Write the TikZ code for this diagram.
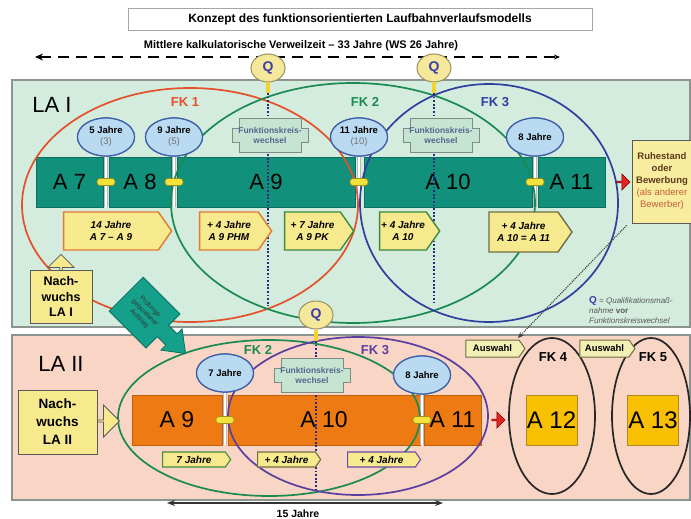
\documentclass[tikz,border=0pt]{standalone}
\usepackage{fontspec}
\setmainfont{Liberation Sans}
\usetikzlibrary{shapes.geometric,shapes.symbols,shapes.arrows,arrows.meta,calc}
\definecolor{mint}{HTML}{D3ECDD}
\definecolor{peach}{HTML}{F8D5C4}
\definecolor{panelline}{HTML}{8C9490}
\definecolor{tealbar}{HTML}{11907B}
\definecolor{tealdark}{HTML}{0B6E5E}
\definecolor{orbar}{HTML}{EE7A14}
\definecolor{ordark}{HTML}{C0600C}
\definecolor{jfill}{HTML}{B9DAF0}
\definecolor{jline}{HTML}{3C5CA8}
\definecolor{lyel}{HTML}{F7E98E}
\definecolor{lorange}{HTML}{E27A32}
\definecolor{lgreen}{HTML}{3E8B3E}
\definecolor{lolive}{HTML}{6E6E40}
\definecolor{lpurple}{HTML}{6A4AA8}
\definecolor{fkred}{HTML}{E4502C}
\definecolor{fkgreen}{HTML}{1B8A52}
\definecolor{fkblue}{HTML}{2F3F9F}
\definecolor{fkpurple}{HTML}{5B3FA0}
\definecolor{qfill}{HTML}{F6E89A}
\definecolor{qline}{HTML}{9A9060}
\definecolor{qtext}{HTML}{3C3CA8}
\definecolor{dotblue}{HTML}{2A2A80}
\definecolor{fkwfill}{HTML}{C6E4D2}
\definecolor{fkwline}{HTML}{7F8C86}
\definecolor{fkwtext}{HTML}{56668E}
\definecolor{capy}{HTML}{F2E23A}
\definecolor{capline}{HTML}{A09020}
\definecolor{ayel}{HTML}{F8C000}
\definecolor{aline}{HTML}{B08A20}
\definecolor{ruhtext}{HTML}{5A3A1A}
\definecolor{ruhred}{HTML}{C8603A}
\definecolor{arrred}{HTML}{E52222}
\definecolor{tealarrow}{HTML}{14A08A}
\definecolor{awfill}{HTML}{F2F0B4}
\tikzset{fkw/.pic={
  \filldraw[fill=fkwfill,draw=fkwline,line width=1pt] (-31,-17) -- (31,-17) -- (31,-7) -- (38,-7) -- (38,7) -- (31,7) -- (31,17) -- (-31,17) -- (-31,7) -- (-38,7) -- (-38,-7) -- (-31,-7) -- cycle;
  \node[align=center,text=fkwtext,font=\bfseries\fontsize{8.5}{10}\selectfont,inner sep=0] (-t) at (0,0) {Funktionskreis-\\wechsel};
}}
\begin{document}
\begin{tikzpicture}[x=1pt,y=-1pt,
  panel/.style={draw=panelline,line width=1.2pt,inner sep=0},
  tbar/.style={fill=tealbar,draw=tealdark,line width=0.5pt,minimum height=50,inner sep=0,font=\fontsize{22}{22}\selectfont},
  obar/.style={fill=orbar,draw=ordark,line width=0.5pt,minimum height=50,inner sep=0,font=\fontsize{23}{23}\selectfont},
  abox/.style={fill=ayel,draw=aline,line width=0.8pt,minimum height=50,minimum width=51,inner sep=0,font=\fontsize{24}{24}\selectfont},
  jahr/.style={ellipse,fill=jfill,draw=jline,line width=1.2pt,minimum width=57,minimum height=38,inner sep=0,align=center,font=\bfseries\fontsize{9.5}{11}\selectfont},
  stemline/.style={draw=gray!55,line width=4pt},
  stemwhite/.style={draw=white,line width=2.2pt},
  caps/.style={rectangle,rounded corners=3pt,fill=capy,draw=capline,line width=0.6pt,minimum width=18,minimum height=7,inner sep=0},
  plabel/.style={signal,signal to=east,signal pointer angle=110,fill=lyel,line width=1.4pt,inner sep=0,align=center,font=\bfseries\itshape\fontsize{10}{12}\selectfont},
  fkell/.style={line width=1.7pt},
  fklab/.style={font=\bfseries\fontsize{13}{13}\selectfont},
  qnode/.style={ellipse,fill=qfill,draw=qline,line width=1pt,minimum width=34,minimum height=28,inner sep=0,font=\bfseries\fontsize{14}{14}\selectfont,text=qtext},
  qstem/.style={draw=capy!85!orange,line width=4pt},
  dotv/.style={draw=dotblue,line width=1.8pt,dash pattern=on 1.8pt off 1.8pt},
  ybox/.style={fill=lyel,draw=gray!70!black,line width=0.8pt,inner sep=0,align=center},
  redarr/.style={single arrow,fill=arrred,draw=red!45!black,line width=0.6pt,minimum height=13,minimum width=16,single arrow head extend=2.5pt,inner sep=0},
  lalab/.style={font=\fontsize{22}{22}\selectfont},
]
\useasboundingbox (0,0) rectangle (691,519);
\fill[white] (0,0) rectangle (691,519);

% title and overall time
\node[draw=gray!70,line width=0.8pt,minimum width=464,minimum height=22,font=\bfseries\fontsize{12}{12}\selectfont] (title) at (360,19) {Konzept des funktionsorientierten Laufbahnverlaufsmodells};
\node[font=\bfseries\fontsize{11}{11}\selectfont] (mkv) at (301,46) {Mittlere kalkulatorische Verweilzeit – 33 Jahre (WS 26 Jahre)};
\coordinate (dl) at (35,57);
\coordinate (dr) at (560,57);
\draw[line width=1.8pt,dash pattern=on 11pt off 7pt,{Stealth[length=8pt,width=7pt]}-{Stealth[length=6pt,width=5pt]}] (dl) -- (dr);

% panels
\node[panel,fill=mint,minimum width=678,minimum height=247] (p1) at (351,203.5) {};
\node[panel,fill=peach,minimum width=678,minimum height=165] (p2) at (351,417.5) {};
\node[lalab] (la1) at (52,105) {LA I};
\node[lalab] (la2) at (61,364) {LA II};

% top bar
\node[tbar,minimum width=67] (a7) at (69.5,182) {A 7};
\node[tbar,minimum width=62] (a8) at (140,182) {A 8};
\node[tbar,minimum width=178] (a9) at (266,182) {A 9};
\node[tbar,minimum width=168] (a10) at (448,182) {A 10};
\node[tbar,minimum width=67] (a11) at (571.5,182) {A 11};

% bottom bar
\node[obar,minimum width=90] (b9) at (177,420) {A 9};
\node[obar,minimum width=192] (b10) at (324,420) {A 10};
\node[obar,minimum width=57] (b11) at (452.5,420) {A 11};
\node[abox] (b12) at (551.5,420) {A 12};
\node[abox] (b13) at (653,420) {A 13};

% Jahre ellipses (nodes first for stems)
\node[jahr] (j1) at (106,137) {5 Jahre\\{\mdseries\color{gray!90!black}(3)}};
\node[jahr] (j2) at (174,137) {9 Jahre\\{\mdseries\color{gray!90!black}(5)}};
\node[jahr] (j3) at (359,137) {11 Jahre\\{\mdseries\color{gray!90!black}(10)}};
\node[jahr] (j4) at (535,137) {8 Jahre};
\node[jahr] (j5) at (225,373) {7 Jahre};
\node[jahr] (j6) at (422,375) {8 Jahre};

% stems
\foreach \j/\b in {j1/a7,j2/a8,j3/a9,j4/a10,j5/b9,j6/b10}{
  \draw[stemline] (\j.south) -- (\j.south |- \b.south);
  \draw[stemwhite] (\j.south) -- (\j.south |- \b.south);
}

% FK ellipses top
\draw[fkell,fkred] (190,205) ellipse [x radius=168pt,y radius=117pt];
\draw[fkell,fkgreen] (353,203) ellipse [x radius=182pt,y radius=120pt];
\draw[fkell,fkblue] (489,203) ellipse [x radius=129pt,y radius=119pt];
% FK ellipses bottom
\draw[fkell,fkgreen] (269,418) ellipse [x radius=151pt,y radius=78pt];
\draw[fkell,fkpurple] (358,416) ellipse [x radius=130pt,y radius=79pt];
\draw[fkell,black!85] (552,416) ellipse [x radius=43pt,y radius=78pt];
\draw[fkell,black!85] (651,416) ellipse [x radius=39pt,y radius=78pt];

% redraw Jahre ellipses on top
\node[jahr] at (j1) {5 Jahre\\{\mdseries\color{gray!90!black}(3)}};
\node[jahr] at (j2) {9 Jahre\\{\mdseries\color{gray!90!black}(5)}};
\node[jahr] at (j3) {11 Jahre\\{\mdseries\color{gray!90!black}(10)}};
\node[jahr] at (j4) {8 Jahre};
\node[jahr] at (j5) {7 Jahre};
\node[jahr] at (j6) {8 Jahre};

% capsules
\foreach \j/\b/\n in {j1/a7/c1,j2/a8/c2,j3/a9/c3,j4/a10/c4,j5/b9/c5,j6/b10/c6}{
  \node[caps] (\n) at (\j.south |- \b.center) {};
}

% FK labels
\node[fklab,text=fkred] (fk1) at (185,102) {FK 1};
\node[fklab,text=fkgreen] (fk2) at (365,102) {FK 2};
\node[fklab,text=fkblue] (fk3) at (495,102) {FK 3};
\node[fklab,text=fkgreen] (fk2b) at (258,350) {FK 2};
\node[fklab,text=fkpurple] (fk3b) at (375,350) {FK 3};
\node[fklab,text=black] (fk4) at (553,357) {FK 4};
\node[fklab,text=black] (fk5) at (653,357) {FK 5};

% Q markers and dotted lines
\node[qnode] (q1) at (268,68) {Q};
\node[qnode] (q2) at (434,68) {Q};
\node[qnode] (q3) at (316,315) {Q};
\coordinate (q1e) at (268,93);
\coordinate (q2e) at (434,93);
\coordinate (q3e) at (316,341);
\coordinate (q1f) at (268,306);
\coordinate (q2f) at (434,303);
\coordinate (q3f) at (316,490);
\draw[dotv] (q1e) -- (q1f);
\draw[dotv] (q2e) -- (q2f);
\draw[dotv] (q3e) -- (q3f);
\draw[qstem] (q1.south) -- (q1e);
\draw[qstem] (q2.south) -- (q2e);
\draw[qstem] (q3.south) -- (q3e);

% Funktionskreiswechsel
\pic (w1) at (270,135) {fkw};
\pic (w2) at (441,135) {fkw};
\pic (w3) at (312,375) {fkw};

% pentagon labels top
\node[plabel,draw=lorange,minimum width=108,minimum height=38] (l1) at (111,231) {14 Jahre\\A 7 – A 9};
\node[plabel,draw=lorange,minimum width=72,minimum height=38] (l2) at (229,231) {+ 4 Jahre\\A 9 PHM};
\node[plabel,draw=lgreen,minimum width=69,minimum height=38] (l3) at (312.5,231) {+ 7 Jahre\\A 9 PK};
\node[plabel,draw=lgreen,minimum width=60,minimum height=38] (l4) at (403,231) {+ 4 Jahre\\A 10};
\node[plabel,draw=lolive,minimum width=83,minimum height=40] (l5) at (523.5,232) {+ 4 Jahre\\A 10 = A 11};

% pentagon labels bottom
\node[plabel,draw=lgreen,minimum width=68,minimum height=15,line width=1.1pt] (m1) at (194,459.5) {7 Jahre};
\node[plabel,draw=lolive,minimum width=63,minimum height=15,line width=1.1pt] (m2) at (286.5,459.5) {+ 4 Jahre};
\node[plabel,draw=lpurple,minimum width=73,minimum height=15,line width=1.1pt] (m3) at (381.5,459.5) {+ 4 Jahre};

% Auswahl
\node[plabel,fill=awfill,draw=lolive,minimum width=59,minimum height=17,line width=1pt,font=\bfseries\fontsize{9.5}{10}\selectfont] (aw1) at (492.5,348.5) {Auswahl};
\node[plabel,fill=awfill,draw=lolive,minimum width=55,minimum height=17,line width=1pt,font=\bfseries\fontsize{9.5}{10}\selectfont] (aw2) at (604.5,348.5) {Auswahl};

% red arrows
\node[redarr] (ra1) at (623,182) {};
\node[redarr] (ra2) at (498,420) {};

% Ruhestand box
\node[ybox,fill=lyel!85!white,minimum width=60,minimum height=83,font=\fontsize{9.5}{12}\selectfont,text=ruhtext] (ruh) at (662,181.5) {\textbf{Ruhestand}\\\textbf{oder}\\\textbf{Bewerbung}\\{\color{ruhred}(als anderer}\\{\color{ruhred}Bewerber)}};

% Nachwuchs LA I with up arrow
\node[single arrow,shape border rotate=90,fill=lyel,draw=gray!70!black,line width=0.8pt,minimum height=16,minimum width=26,single arrow head extend=4pt,inner sep=0] (up1) at (61,263) {};
\node[ybox,minimum width=62,minimum height=53,font=\bfseries\fontsize{12.5}{15.5}\selectfont] (nw1) at (61,296.5) {Nach-\\wuchs\\LA I};

% Nachwuchs LA II with right arrow
\node[single arrow,fill=lyel,draw=gray!70!black,line width=0.8pt,minimum height=26,minimum width=32,single arrow head extend=6pt,inner sep=0] (rt2) at (106,421) {};
\node[ybox,minimum width=79,minimum height=64,font=\bfseries\fontsize{13.5}{18}\selectfont] (nw2) at (57.5,422) {Nach-\\wuchs\\LA II};

% diagonal teal arrow
\begin{scope}[shift={(146,314)},rotate=-45]
  \filldraw[fill=tealarrow,draw=tealdark,line width=0.8pt] (-28,-24) -- (24,-24) -- (24,-8) -- (36,-8) -- (36,-15) -- (56,0) -- (36,15) -- (36,8) -- (24,8) -- (24,24) -- (-28,24) -- cycle;
\end{scope}
\node[rotate=-45,align=center,font=\fontsize{6.5}{8}\selectfont,text=black!80] (pga) at (145,313) {Prüfungs-\\gebundener\\Aufstieg};

% legend
\node[anchor=west,align=left,inner sep=0,font=\itshape\fontsize{8}{10}\selectfont,text=black!65] (leg) at (589,310) {{\upshape\bfseries\fontsize{10}{10}\selectfont\color{qtext}Q} = Qualifikationsmaß-\\nahme {\upshape\bfseries vor}\\Funktionskreiswechsel};
\coordinate (ds) at ($(ruh.south west)+(-5,2)$);
\coordinate (de) at (518,338);
\draw[densely dotted,line width=1.1pt,black!75,-{Stealth[length=6pt,width=5pt]}] (ds) -- (de);

% 15 Jahre
\coordinate (fl) at (167,503);
\coordinate (fr) at (443,503);
\draw[line width=1.5pt,black!80,{Stealth[length=8pt,width=6pt]}-{Stealth[length=8pt,width=6pt]}] (fl) -- (fr);
\node[font=\bfseries\fontsize{10.5}{10.5}\selectfont] (fj) at (298,514) {15 Jahre};
\end{tikzpicture}
\end{document}
